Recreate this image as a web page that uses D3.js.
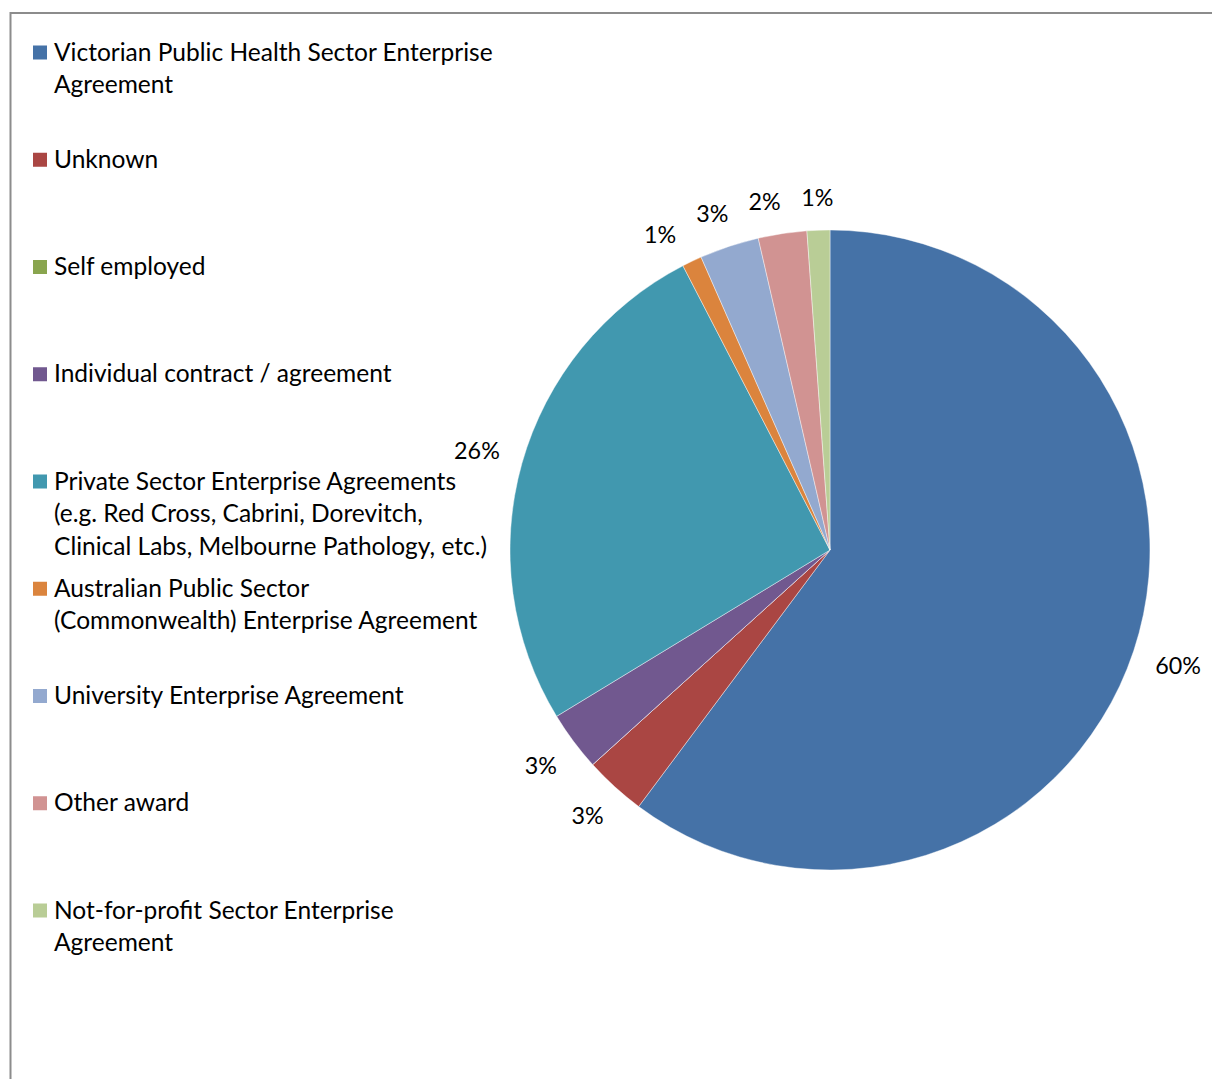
<!DOCTYPE html>
<html><head><meta charset="utf-8">
<script src="https://cdn.jsdelivr.net/npm/d3@7/dist/d3.min.js"></script>
<style>html,body{margin:0;padding:0;background:#fff;overflow:hidden}</style>
</head><body>
<script>
const categories = [
  "Victorian Public Health Sector Enterprise\nAgreement",
  "Unknown",
  "Self employed",
  "Individual contract / agreement",
  "Private Sector Enterprise Agreements\n(e.g. Red Cross, Cabrini, Dorevitch,\nClinical Labs, Melbourne Pathology, etc.)",
  "Australian Public Sector\n(Commonwealth) Enterprise Agreement",
  "University Enterprise Agreement",
  "Other award",
  "Not-for-profit Sector Enterprise\nAgreement"
];
const values = [60.2, 3.1, 0, 3.0, 26.1, 1.0, 3.0, 2.45, 1.15];
const colors = ["#4572A7","#AA4643","#89A54E","#71588F","#4198AF","#DB843D","#93A9CF","#D19392","#B9CD96"];

const W = 1212, H = 1079;
const FONT = "Lato, 'Open Sans', sans-serif";
const svg = d3.select("body").append("svg").attr("width", W).attr("height", H);

// frame
svg.append("rect").attr("x", 10.5).attr("y", 13).attr("width", 1400).attr("height", 1400)
  .attr("fill", "none").attr("stroke", "#8c8c8c").attr("stroke-width", 2);

// fit font size to reference width of first legend line
const probe = svg.append("text").attr("font-family", FONT).attr("font-size", 22)
  .text("Victorian Public Health Sector Enterprise");
const fs = 22 * 439 / probe.node().getComputedTextLength();
probe.remove();

// legend
const legendY = d3.scaleLinear().domain([0, categories.length - 1]).range([52, 910]);
const lg = svg.append("g").attr("font-family", FONT).attr("font-size", fs).attr("fill", "#000");
categories.forEach((c, i) => {
  const y = legendY(i);
  lg.append("rect").attr("x", 33).attr("y", y - 6.5).attr("width", 14).attr("height", 14).attr("fill", colors[i]);
  c.split("\n").forEach((line, j) => {
    lg.append("text").attr("x", 54).attr("y", y + j * 32.5).attr("dy", "0.35em").text(line);
  });
});

// pie
const cx = 830, cy = 550, R = 320;
const total = d3.sum(values);
const pie = d3.pie().sort(null).value(d => d)(values);
const arc = d3.arc().innerRadius(0).outerRadius(R);
const g = svg.append("g").attr("transform", `translate(${cx},${cy})`);
g.selectAll("path").data(pie).join("path")
  .attr("d", arc).attr("fill", (d, i) => colors[i])
  .attr("stroke", "#fff").attr("stroke-width", 0.6).attr("stroke-opacity", 0.7);

const fmt = d3.format(".0%");
const lab = g.append("g").attr("font-family", FONT).attr("font-size", fs * 0.95).attr("fill", "#000");
const labels = [];
pie.forEach((d, i) => {
  if (values[i] <= 0) return;
  const t = lab.append("text").attr("text-anchor", "middle").attr("dy", "0.35em").text(fmt(values[i] / total));
  labels.push({ t, a: (d.startAngle + d.endAngle) / 2, w: t.node().getComputedTextLength(), h: fs * 0.8 });
});
function place(L) {
  const s = Math.sin(L.a), c = -Math.cos(L.a);
  const r = R + 22 + Math.abs(s) * L.w / 2 + Math.abs(c) * L.h / 2;
  L.x = s * r; L.y = c * r;
}
labels.forEach(place);
// simple overlap relaxation: push the counter-clockwise neighbour away
const mx = 20, my = 2;
for (let it = 0; it < 400; it++) {
  let moved = false;
  for (let k = 0; k < labels.length - 1; k++) {
    const A = labels[k], B = labels[k + 1];
    const ox = (A.w + B.w) / 2 + mx - Math.abs(A.x - B.x);
    const oy = (A.h + B.h) / 2 + my - Math.abs(A.y - B.y);
    if (ox > 0 && oy > 0) { A.a -= 0.002; place(A); moved = true; }
  }
  if (!moved) break;
}
labels.forEach(L => L.t.attr("x", L.x).attr("y", L.y));
</script>
</body></html>
